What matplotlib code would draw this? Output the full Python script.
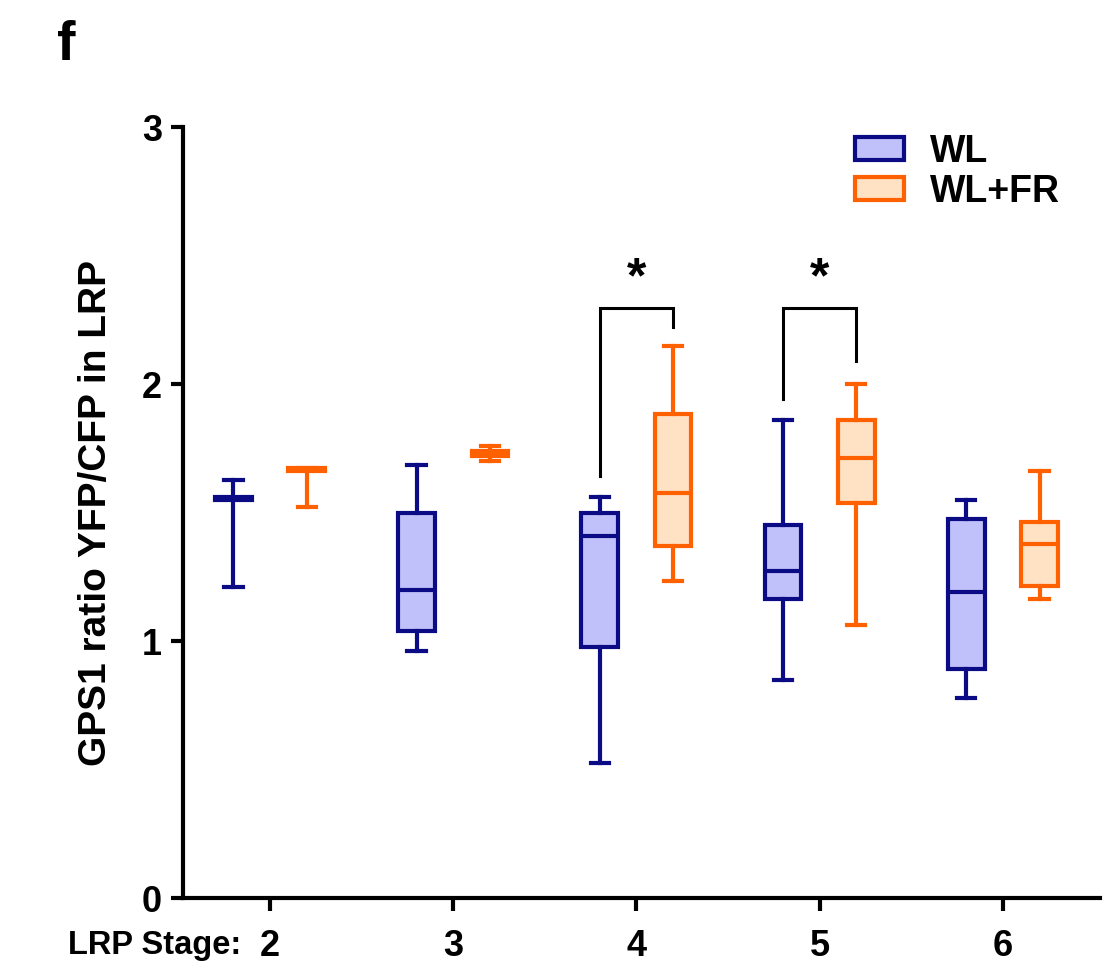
import matplotlib
matplotlib.use("Agg")
import matplotlib.pyplot as plt
from matplotlib.patches import Patch

plt.rcParams['font.family'] = ['Liberation Sans', 'DejaVu Sans']
plt.rcParams['font.weight'] = 'bold'

# data
stages = [2, 3, 4, 5, 6]
wl_min = [1.21, 0.96, 0.525, 0.85, 0.78]
wl_q1 = [1.55, 1.04, 0.975, 1.165, 0.89]
wl_med = [1.556, 1.20, 1.41, 1.274, 1.19]
wl_q3 = [1.562, 1.50, 1.50, 1.45, 1.475]
wl_max = [1.626, 1.685, 1.56, 1.86, 1.55]

fr_min = [1.52, 1.70, 1.235, 1.062, 1.162]
fr_q1 = [1.66, 1.72, 1.37, 1.536, 1.214]
fr_med = [1.668, 1.731, 1.575, 1.711, 1.376]
fr_q3 = [1.675, 1.739, 1.883, 1.86, 1.462]
fr_max = [1.675, 1.759, 2.147, 1.999, 1.661]

# significance brackets: stage, left foot, right foot, top
sig_stages = [4, 5]
sig_left = [1.643, 1.94]
sig_right = [2.22, 2.09]
sig_top = [2.296, 2.296]

wl_edge, wl_fill = '#0b0b85', '#c0c0fa'
fr_edge, fr_fill = '#ff6000', '#ffe1c4'
offset = 0.2
lw = 3.0


def stats(mins, q1s, meds, q3s, maxs):
    return [dict(whislo=a, q1=b, med=c, q3=d, whishi=e, fliers=[])
            for a, b, c, d, e in zip(mins, q1s, meds, q3s, maxs)]


fig = plt.figure(figsize=(11.16, 9.71), dpi=100)
ax = fig.add_axes([183 / 1116, 1 - 898 / 971, (1100 - 183) / 1116, (898 - 127) / 971])

for st, pos, edge, fill in [
        (stats(wl_min, wl_q1, wl_med, wl_q3, wl_max), [s - offset for s in stages], wl_edge, wl_fill),
        (stats(fr_min, fr_q1, fr_med, fr_q3, fr_max), [s + offset for s in stages], fr_edge, fr_fill)]:
    ax.bxp(st, positions=pos, widths=0.2, capwidths=0.1, patch_artist=True,
           showfliers=False, manage_ticks=False,
           boxprops=dict(facecolor=fill, edgecolor=edge, linewidth=lw),
           medianprops=dict(color=edge, linewidth=lw),
           whiskerprops=dict(color=edge, linewidth=lw),
           capprops=dict(color=edge, linewidth=lw))

for s, l, r, t in zip(sig_stages, sig_left, sig_right, sig_top):
    ax.plot([s - offset, s - offset, s + offset, s + offset], [l, t, t, r],
            color='black', lw=2.2, solid_joinstyle='miter')
    ax.text(s, t + 0.02, '*', ha='center', va='bottom', fontsize=36, fontweight='bold')

ax.set_xlim(1.525, 6.53)
ax.set_ylim(0, 3)
ax.set_xticks(stages)
ax.set_xticklabels([str(s) for s in stages])
ax.set_yticks([0, 1, 2, 3])
for side in ['top', 'right']:
    ax.spines[side].set_visible(False)
for side in ['left', 'bottom']:
    ax.spines[side].set_linewidth(3)
ax.tick_params(axis='both', width=3, length=9, labelsize=26)
ax.tick_params(axis='x', pad=13)
ax.tick_params(axis='y', pad=6)

ax.set_ylabel('GPS1 ratio YFP/CFP in LRP', fontsize=28, fontweight='bold', labelpad=20)
fig.text(68 / 1116, 1 - 945 / 971, 'LRP Stage:', fontsize=23.5, fontweight='bold',
         ha='left', va='center')
fig.text(66 / 1116, 1 - 46 / 971, 'f', fontsize=40, fontweight='bold',
         ha='center', va='center')

handles = [Patch(facecolor=wl_fill, edgecolor=wl_edge, linewidth=lw, label='WL'),
           Patch(facecolor=fr_fill, edgecolor=fr_edge, linewidth=lw, label='WL+FR')]
fig.legend(handles=handles, loc='upper left', bbox_to_anchor=(855 / 1116, 1 - 134 / 971),
           frameon=False, fontsize=27, handlelength=1.3, handleheight=0.55,
           handletextpad=0.7, labelspacing=0.1, borderpad=0, borderaxespad=0)

fig.savefig('out.png', dpi=100)
